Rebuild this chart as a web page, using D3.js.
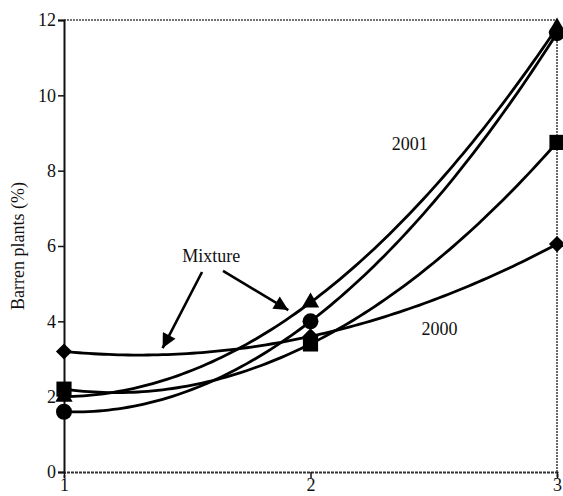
<!DOCTYPE html>
<html>
<head>
<meta charset="utf-8">
<script src="https://cdn.jsdelivr.net/npm/d3@7/dist/d3.min.js"></script>
<style>
  html, body { margin: 0; padding: 0; background: #fff; }
  svg { display: block; }
  text { font-family: "Liberation Serif", "Times New Roman", serif; fill: #111; }
</style>
</head>
<body>
<svg id="chart" width="563" height="496"></svg>
<script>
// Sampling stage on the x axis
const stages = [1, 2, 3];
const xTickLabels = ["1", "2", "3"];
const yTicks = [0, 2, 4, 6, 8, 10, 12];

// Barren plants (%) for each series at stages 1, 2, 3
const diamondValues = [3.2, 3.6, 6.05];
const squareValues = [2.2, 3.4, 8.75];
const triangleValues = [2.0, 4.5, 11.8];
const circleValues = [1.6, 4.0, 11.65];

const seriesNames = ["diamond", "square", "triangle", "circle"];
const seriesValues = [diamondValues, squareValues, triangleValues, circleValues];

const svg = d3.select("#chart");
const margin = { left: 64, right: 6, top: 20, bottom: 24 };
const W = 563, H = 496;
const FS = 18;

const x = d3.scaleLinear().domain([1, 3]).range([margin.left, W - margin.right]);
const y = d3.scaleLinear().domain([0, 12]).range([H - margin.bottom, margin.top]);

// Frame: dotted top and right edges
svg.append("line")
  .attr("x1", x(1)).attr("x2", x(3)).attr("y1", y(12)).attr("y2", y(12))
  .attr("stroke", "#444").attr("stroke-width", 1.6).attr("stroke-dasharray", "2,1");
svg.append("line")
  .attr("x1", x(3)).attr("x2", x(3)).attr("y1", y(12)).attr("y2", y(0))
  .attr("stroke", "#444").attr("stroke-width", 1.6).attr("stroke-dasharray", "2,1");

// Y axis
const yAxis = d3.axisLeft(y).tickValues(yTicks).tickSize(6).tickPadding(2).tickFormat(d3.format("d"));
const gy = svg.append("g").attr("transform", `translate(${x(1)},0)`).call(yAxis);
gy.select(".domain").attr("stroke", "#111").attr("stroke-width", 2);
gy.selectAll(".tick line").attr("stroke", "#111").attr("stroke-width", 1.5);
gy.selectAll(".tick text").attr("font-size", FS).attr("fill", "#111");

// X axis
const xAxis = d3.axisBottom(x).tickValues(stages).tickSize(6).tickPadding(0)
  .tickFormat((d, i) => xTickLabels[i]);
const gx = svg.append("g").attr("transform", `translate(0,${y(0)})`).call(xAxis);
gx.select(".domain").attr("stroke", "#333").attr("stroke-width", 1.8).attr("stroke-dasharray", "3,1");
gx.selectAll(".tick line").attr("stroke", "#111").attr("stroke-width", 1.5);
gx.selectAll(".tick text").attr("font-size", FS).attr("fill", "#111");

// Y axis title
svg.append("text")
  .attr("transform", `translate(24,${y(6)}) rotate(-90)`)
  .attr("text-anchor", "middle")
  .attr("font-size", FS)
  .text("Barren plants (%)");

// Quadratic trend through three stage values (Lagrange form)
function quadratic(vals) {
  const [x0, x1, x2] = stages;
  return t =>
    vals[0] * (t - x1) * (t - x2) / ((x0 - x1) * (x0 - x2)) +
    vals[1] * (t - x0) * (t - x2) / ((x1 - x0) * (x1 - x2)) +
    vals[2] * (t - x0) * (t - x1) / ((x2 - x0) * (x2 - x1));
}

const samples = d3.range(1, 3.0001, 0.02);
const line = d3.line().x(d => x(d[0])).y(d => y(d[1]));

const curves = svg.append("g");
seriesValues.forEach(vals => {
  const f = quadratic(vals);
  curves.append("path")
    .attr("d", line(samples.map(t => [t, f(t)])))
    .attr("fill", "none")
    .attr("stroke", "#000")
    .attr("stroke-width", 2.8);
});

// Markers
const symbolFor = {
  diamond: { type: d3.symbolSquare, size: 130, rotate: 45 },
  square: { type: d3.symbolSquare, size: 230, rotate: 0 },
  triangle: { type: d3.symbolTriangle, size: 130, rotate: 0 },
  circle: { type: d3.symbolCircle, size: 200, rotate: 0 }
};
const drawOrder = ["diamond", "circle", "triangle", "square"];
const marks = svg.append("g");
drawOrder.forEach(name => {
  const vals = seriesValues[seriesNames.indexOf(name)];
  const s = symbolFor[name];
  marks.selectAll(null)
    .data(stages.map((st, i) => [st, vals[i]]))
    .join("path")
    .attr("d", d3.symbol().type(s.type).size(s.size))
    .attr("transform", d => `translate(${x(d[0])},${y(d[1])}) rotate(${s.rotate})`)
    .attr("fill", "#000");
});

// Annotations
svg.append("defs").append("marker")
  .attr("id", "head")
  .attr("viewBox", "0 0 10 10")
  .attr("refX", 10).attr("refY", 5)
  .attr("markerWidth", 6).attr("markerHeight", 5.5)
  .attr("markerUnits", "strokeWidth")
  .attr("orient", "auto")
  .append("path").attr("d", "M0,0 L10,5 L0,10 Z").attr("fill", "#000");

const arrows = [
  { from: [1.56, 5.31], to: [1.40, 3.29] },
  { from: [1.645, 5.34], to: [1.91, 4.30] }
];
arrows.forEach(a => {
  svg.append("line")
    .attr("x1", x(a.from[0])).attr("y1", y(a.from[1]))
    .attr("x2", x(a.to[0])).attr("y2", y(a.to[1]))
    .attr("stroke", "#000").attr("stroke-width", 2.6)
    .attr("marker-end", "url(#head)");
});

const notes = [
  { text: "Mixture", at: [1.48, 5.57] },
  { text: "2001", at: [2.33, 8.55] },
  { text: "2000", at: [2.45, 3.63] }
];
notes.forEach(n => {
  svg.append("text")
    .attr("x", x(n.at[0])).attr("y", y(n.at[1]))
    .attr("font-size", FS)
    .text(n.text);
});
</script>
</body>
</html>
